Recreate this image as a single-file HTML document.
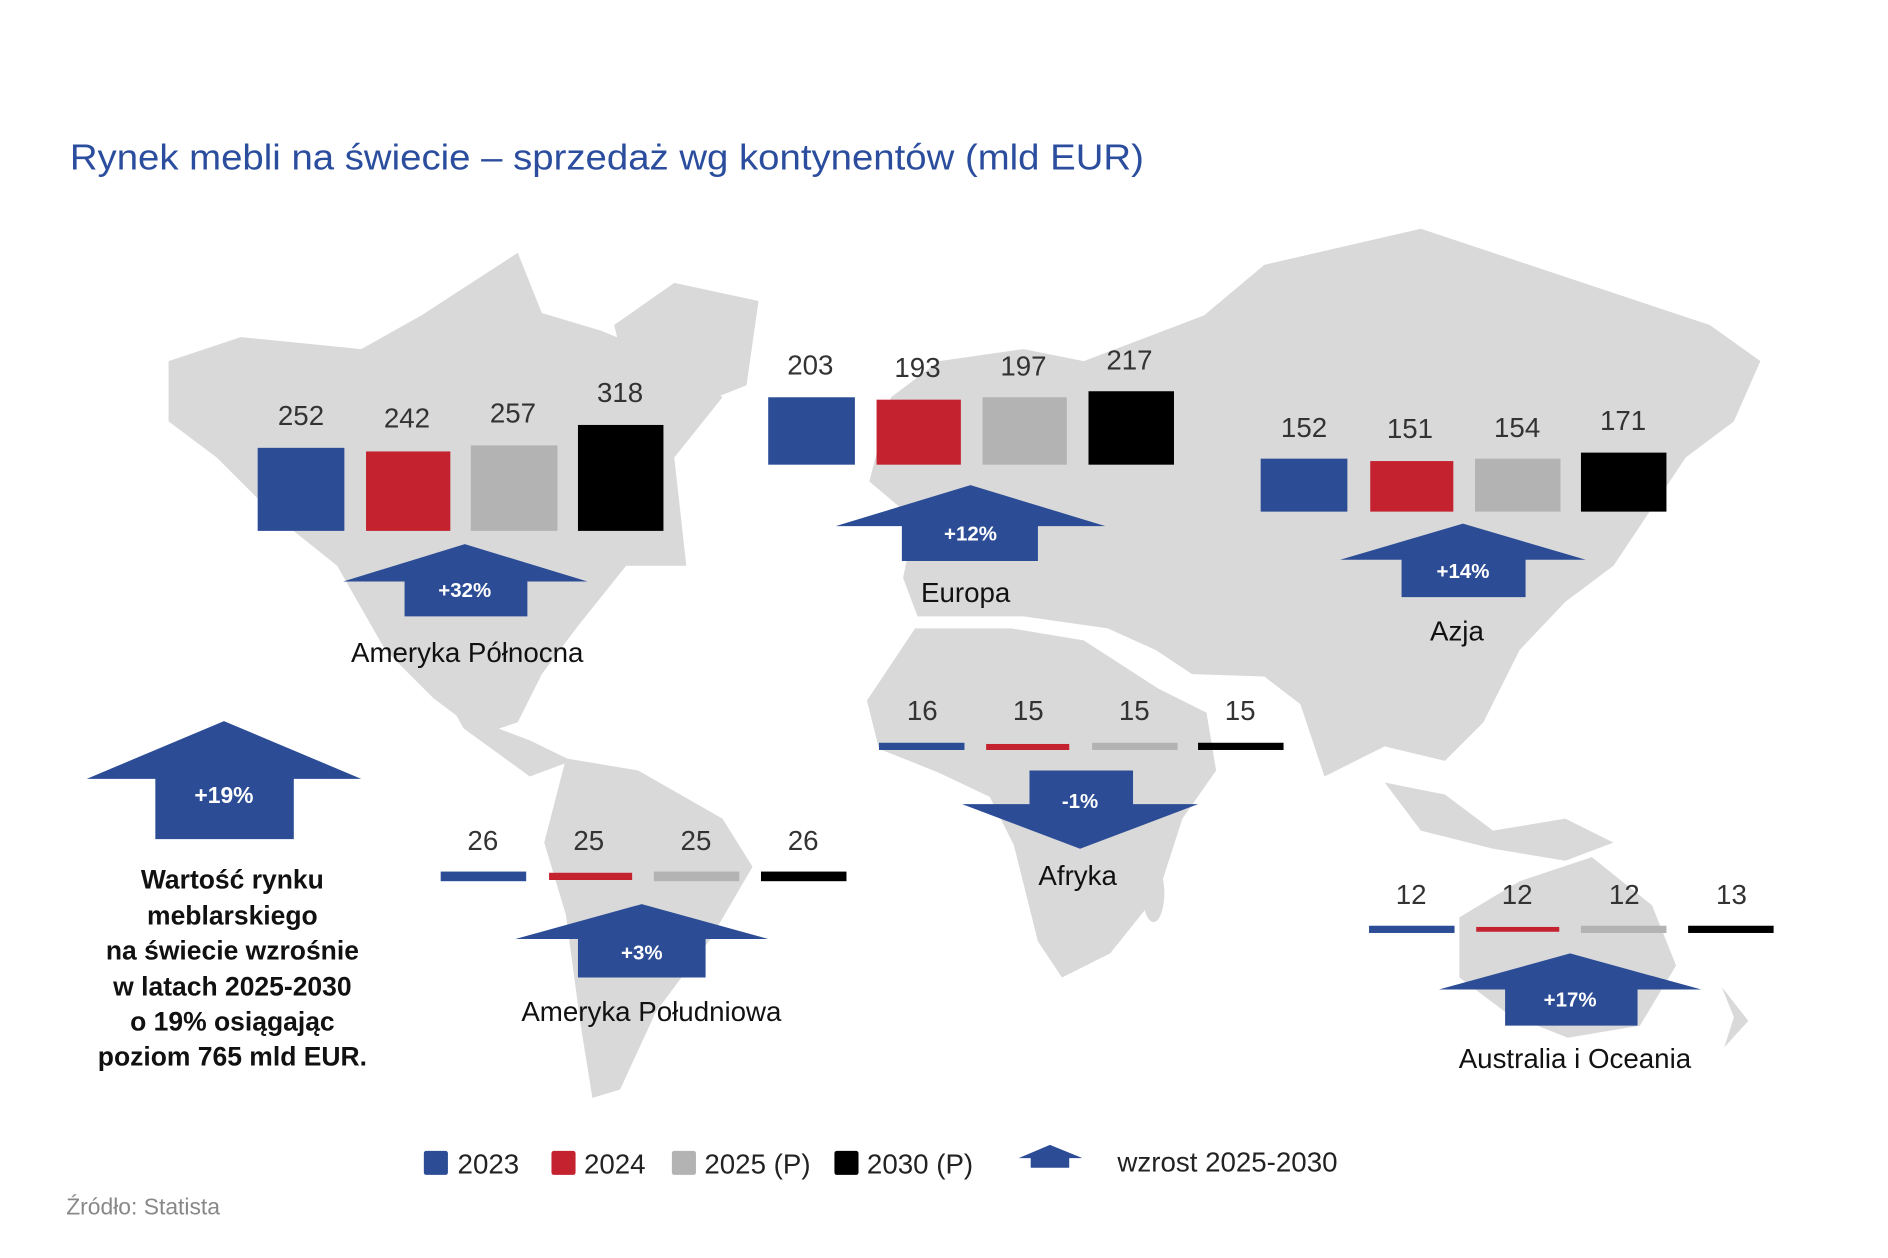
<!DOCTYPE html>
<html><head><meta charset="utf-8"><style>
html,body{margin:0;padding:0;background:#fff}
svg{display:block}
text{font-family:"Liberation Sans",sans-serif}
</style></head><body>
<svg width="1888" height="1258" viewBox="0 0 1568 1045" preserveAspectRatio="none" xmlns="http://www.w3.org/2000/svg">
<rect width="1568" height="1045" fill="#fff"/>
<text x="58" y="141" font-size="30" fill="#2b4d9e" textLength="892" lengthAdjust="spacingAndGlyphs">Rynek mebli na świecie – sprzedaż wg kontynentów (mld EUR)</text>
<g fill="#d9d9d9">
<polygon points="140,300 200,280 300,290 350,262 430,210 450,260 500,275 560,300 600,330 560,380 570,470 520,470 480,520 450,560 430,600 400,610 360,580 320,540 280,470 230,430 180,380 140,350"/>
<polygon points="510,270 560,235 630,250 620,320 570,340 520,310"/>
<polygon points="360,560 400,600 440,615 475,632 440,645 385,605"/>
<polygon points="470,630 530,640 600,680 625,720 590,780 545,840 515,905 492,912 482,850 470,760 452,700"/>
<polygon points="740,330 780,300 850,290 900,300 1000,262 1050,220 1180,190 1300,230 1420,270 1462,300 1440,350 1400,380 1340,470 1300,500 1262,540 1232,600 1200,632 1150,620 1100,645 1080,585 1050,562 990,560 960,540 920,522 850,512 762,512 750,480 760,432 722,400"/>
<polygon points="760,522 840,522 900,532 962,572 1002,592 1010,640 982,680 962,742 922,792 882,812 862,782 842,702 822,662 780,642 730,622 720,582"/>
<ellipse cx="958" cy="742" rx="9" ry="24"/>
<polygon points="1150,650 1200,660 1240,690 1300,680 1340,700 1300,715 1240,705 1180,690"/>
<polygon points="1212,762 1262,732 1322,712 1372,752 1392,802 1362,852 1302,862 1252,842 1212,812"/>
<polygon points="1430,820 1452,848 1432,870 1440,845"/>
</g>
<g font-size="23" fill="#333" text-anchor="middle">
<text x="250" y="353">252</text><text x="338" y="355">242</text><text x="426" y="351">257</text><text x="515" y="334">318</text>
<text x="673" y="311">203</text><text x="762" y="313">193</text><text x="850" y="312">197</text><text x="938" y="307">217</text>
<text x="1083" y="363">152</text><text x="1171" y="364">151</text><text x="1260" y="363">154</text><text x="1348" y="357">171</text>
<text x="766" y="598">16</text><text x="854" y="598">15</text><text x="942" y="598">15</text><text x="1030" y="598">15</text>
<text x="401" y="706">26</text><text x="489" y="706">25</text><text x="578" y="706">25</text><text x="667" y="706">26</text>
<text x="1172" y="751">12</text><text x="1260" y="751">12</text><text x="1349" y="751">12</text><text x="1438" y="751">13</text>
</g>
<rect x="214" y="372" width="72" height="69" fill="#2c4d96"/><rect x="304" y="375" width="70" height="66" fill="#c4222f"/><rect x="391" y="370" width="72" height="71" fill="#b3b3b3"/><rect x="480" y="353" width="71" height="88" fill="#000"/>
<rect x="638" y="330" width="72" height="56" fill="#2c4d96"/><rect x="728" y="332" width="70" height="54" fill="#c4222f"/><rect x="816" y="330" width="70" height="56" fill="#b3b3b3"/><rect x="904" y="325" width="71" height="61" fill="#000"/>
<rect x="1047" y="381" width="72" height="44" fill="#2c4d96"/><rect x="1138" y="383" width="69" height="42" fill="#c4222f"/><rect x="1225" y="381" width="71" height="44" fill="#b3b3b3"/><rect x="1313" y="376" width="71" height="49" fill="#000"/>
<rect x="730" y="617" width="71" height="6" fill="#2c4d96"/><rect x="819" y="618" width="69" height="5" fill="#c4222f"/><rect x="907" y="617" width="71" height="6" fill="#b3b3b3"/><rect x="995" y="617" width="71" height="6" fill="#000"/>
<rect x="366" y="724" width="71" height="8" fill="#2c4d96"/><rect x="456" y="725" width="69" height="6" fill="#c4222f"/><rect x="543" y="724" width="71" height="8" fill="#b3b3b3"/><rect x="632" y="724" width="71" height="8" fill="#000"/>
<rect x="1137" y="769" width="71" height="6" fill="#2c4d96"/><rect x="1226" y="770" width="69" height="4" fill="#c4222f"/><rect x="1313" y="769" width="71" height="6" fill="#b3b3b3"/><rect x="1402" y="769" width="71" height="6" fill="#000"/>
<g fill="#2c4d96">
<polygon points="386,452 488,483 438,483 438,512 336,512 336,483 285,483"/>
<polygon points="806,403 918,437 862,437 862,466 749,466 749,437 694,437"/>
<polygon points="1215,435 1317,465 1267,465 1267,496 1164,496 1164,465 1113,465"/>
<polygon points="855,640 941,640 941,668 995,668 897,705 799,668 855,668"/>
<polygon points="533,751 638,780 586,780 586,812 480,812 480,780 428,780"/>
<polygon points="1304,792 1413,822 1360,822 1360,852 1250,852 1250,822 1195,822"/>
<polygon points="186,599 300,647 244,647 244,697 129,697 129,647 72,647"/>
<polygon points="872,951 899,962 888,962 888,970 856,970 856,962 846,962"/>
</g>
<g font-size="17" fill="#fff" text-anchor="middle" font-weight="bold">
<text x="386" y="496">+32%</text><text x="806" y="449">+12%</text><text x="1215" y="480">+14%</text><text x="897" y="671">-1%</text><text x="533" y="797">+3%</text><text x="1304" y="836">+17%</text><text x="186" y="667" font-size="19">+19%</text>
</g>
<g font-size="23" fill="#111" text-anchor="middle">
<text x="388" y="550">Ameryka Północna</text><text x="802" y="500">Europa</text><text x="1210" y="532">Azja</text><text x="895" y="735">Afryka</text><text x="541" y="848">Ameryka Południowa</text><text x="1308" y="887">Australia i Oceania</text>
</g>
<g font-size="22" fill="#111" text-anchor="middle" font-weight="bold">
<text x="193" y="738">Wartość rynku</text><text x="193" y="768">meblarskiego</text><text x="193" y="797">na świecie wzrośnie</text><text x="193" y="827">w latach 2025-2030</text><text x="193" y="856">o 19% osiągając</text><text x="193" y="885">poziom 765 mld EUR.</text>
</g>
<rect x="352" y="956" width="20" height="20" rx="2" fill="#2c4d96"/><rect x="458" y="956" width="20" height="20" rx="2" fill="#c4222f"/><rect x="558" y="956" width="20" height="20" rx="2" fill="#b3b3b3"/><rect x="693" y="956" width="20" height="20" rx="2" fill="#000"/>
<g font-size="23" fill="#222"><text x="380" y="975">2023</text><text x="485" y="975">2024</text><text x="585" y="975">2025 (P)</text><text x="720" y="975">2030 (P)</text><text x="928" y="973">wzrost 2025-2030</text></g>
<text x="55" y="1009" font-size="19" fill="#888">Źródło: Statista</text>
</svg>
</body></html>
